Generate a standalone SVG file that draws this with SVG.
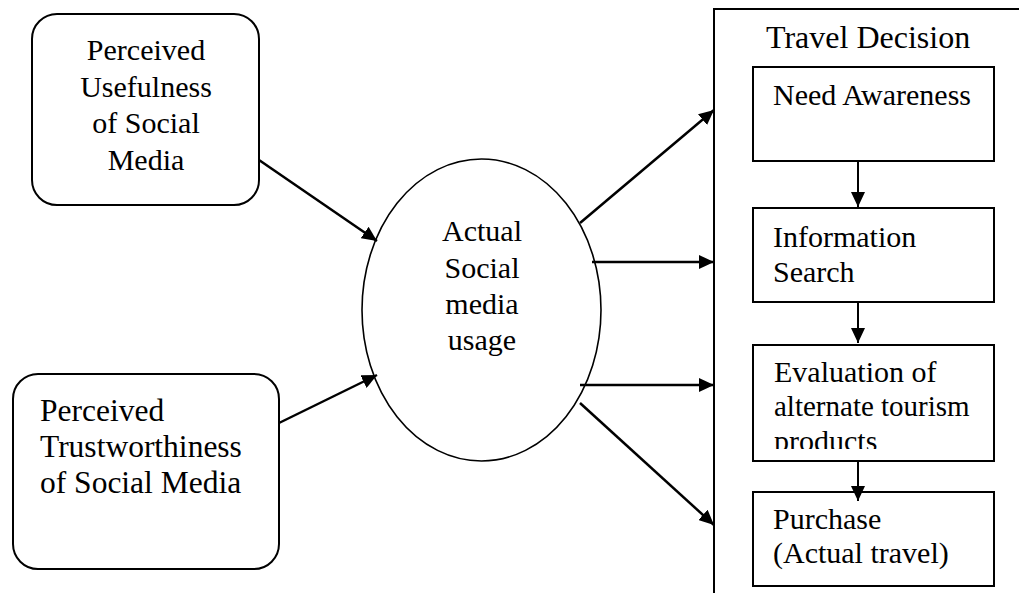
<svg xmlns="http://www.w3.org/2000/svg" width="1019" height="593" viewBox="0 0 1019 593">
  <style>
    .t { font-family: "Liberation Serif", "Times New Roman", serif; font-size: 30px; fill: #000; }
    .box { fill: #fff; stroke: #000; stroke-width: 2; }
    .conn { stroke: #000; stroke-width: 2.5; fill: none; marker-end: url(#ah); }
    .down { stroke: #000; stroke-width: 2; fill: none; marker-end: url(#ah); }
  </style>
  <defs>
    <marker id="ah" markerUnits="userSpaceOnUse" markerWidth="16" markerHeight="14" refX="15" refY="7" orient="auto">
      <path d="M0,0 L15,7 L0,14 Z" fill="#000"/>
    </marker>
    <clipPath id="evalclip">
      <rect x="753" y="345" width="241" height="104"/>
    </clipPath>
  </defs>
  <rect width="1019" height="593" fill="#fff"/>

  <g id="travel-decision">
    <rect class="box" x="714" y="9" width="420" height="700"/>
    <text class="t" x="766" y="48" style="font-size:32px">Travel Decision</text>
  </g>

  <g id="perceived-usefulness">
    <rect class="box" x="32" y="14" width="227" height="191" rx="25" ry="25"/>
    <text class="t" text-anchor="middle" x="146" y="60">Perceived</text>
    <text class="t" text-anchor="middle" x="146" y="97">Usefulness</text>
    <text class="t" text-anchor="middle" x="146" y="133">of Social</text>
    <text class="t" text-anchor="middle" x="146" y="170">Media</text>
  </g>

  <g id="perceived-trustworthiness">
    <rect class="box" x="13" y="374" width="266" height="195" rx="25" ry="25"/>
    <text class="t" x="40" y="421" style="font-size:31.5px">Perceived</text>
    <text class="t" x="40" y="457" style="font-size:31.5px">Trustworthiness</text>
    <text class="t" x="40" y="493" style="font-size:31.5px">of Social Media</text>
  </g>

  <g id="actual-usage">
    <ellipse cx="481.5" cy="310" rx="119.5" ry="151" fill="#fff" stroke="#000" stroke-width="1.6"/>
    <text class="t" text-anchor="middle" x="482" y="241">Actual</text>
    <text class="t" text-anchor="middle" x="482" y="278">Social</text>
    <text class="t" text-anchor="middle" x="482" y="314">media</text>
    <text class="t" text-anchor="middle" x="482" y="350">usage</text>
  </g>

  <g id="need-awareness">
    <rect class="box" x="753" y="67" width="241" height="94"/>
    <text class="t" x="773" y="105">Need Awareness</text>
  </g>

  <g id="information-search">
    <rect class="box" x="753" y="208" width="241" height="94"/>
    <text class="t" x="773" y="247">Information</text>
    <text class="t" x="773" y="282">Search</text>
  </g>

  <g id="evaluation">
    <rect class="box" x="753" y="345" width="241" height="116"/>
    <text class="t" x="774" y="382">Evaluation of</text>
    <text class="t" x="774" y="416" style="font-size:29px">alternate tourism</text>
    <text class="t" x="774" y="451" clip-path="url(#evalclip)">products</text>
  </g>

  <g id="purchase">
    <rect class="box" x="753" y="492" width="241" height="94"/>
    <text class="t" x="773" y="529">Purchase</text>
    <text class="t" x="773" y="563">(Actual travel)</text>
  </g>

  <g id="connectors">
    <line class="conn" x1="259" y1="160" x2="377" y2="241"/>
    <line class="conn" x1="279" y1="423" x2="377" y2="375"/>
    <line class="conn" x1="580" y1="223" x2="714" y2="110"/>
    <line class="conn" x1="592" y1="262" x2="714" y2="262"/>
    <line class="conn" x1="580" y1="385" x2="714" y2="385"/>
    <line class="conn" x1="580" y1="403" x2="714" y2="525"/>
    <line class="down" x1="858" y1="161" x2="858" y2="207"/>
    <line class="down" x1="858" y1="302" x2="858" y2="343"/>
    <line class="down" x1="858" y1="461" x2="858" y2="501"/>
  </g>
</svg>
